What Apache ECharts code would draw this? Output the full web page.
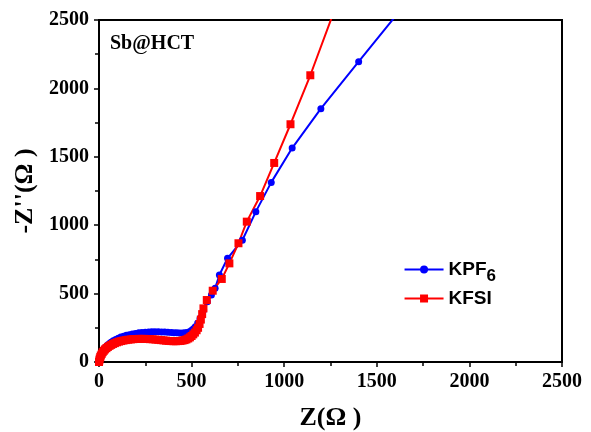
<!DOCTYPE html>
<html>
<head>
<meta charset="utf-8">
<script src="https://cdn.jsdelivr.net/npm/echarts@6/dist/echarts.min.js"></script>
<style>html,body{margin:0;padding:0;background:#fff;}#c{width:591px;height:432px;}</style>
</head>
<body>
<div id="c"></div>
<script>
var xTicks = [0, 500, 1000, 1500, 2000, 2500];
var yTicks = [0, 500, 1000, 1500, 2000, 2500];
var kpf6 = [[0,0],[3,20],[6,35],[10,50],[15,65],[21,80],[28,95],[36,109],[45,122],[55,134],[65,145],[77,155],[90,165],[104,174],[118,182],[133,189],[148,195],[164,200],[180,205],[197,209],[215,213],[232,216],[250,218],[268,220],[285,221],[302,221],[320,221],[338,220],[355,219],[372,218],[390,216],[405,214],[420,213],[435,212],[450,212],[463,213],[475,216],[488,222],[500,232],[510,243],[520,258],[533,285],[546,320],[565,380],[585,441],[607,490],[627,539],[650,636],[694,758],[774,890],[847,1099],[930,1313],[1043,1564],[1198,1852],[1402,2195],[1620,2560]];
var kfsi = [[0,0],[2,12],[4,25],[7,37],[10,48],[15,60],[20,72],[26,82],[32,92],[40,101],[48,110],[57,118],[66,125],[76,132],[86,138],[97,144],[108,149],[120,153],[132,157],[145,160],[158,163],[172,165],[185,167],[200,168],[215,169],[230,169],[245,169],[260,168],[275,167],[290,166],[305,164],[320,162],[335,160],[348,158],[362,156],[376,154],[390,153],[402,152],[415,152],[428,153],[440,154],[451,157],[462,160],[472,165],[482,172],[491,180],[500,190],[509,202],[518,215],[527,232],[535,250],[543,278],[550,310],[557,350],[564,392],[582,453],[614,521],[663,607],[704,721],[753,868],[798,1026],[870,1213],[946,1455],[1034,1738],[1141,2096],[1290,2640]];
var title = 'Sb@HCT';
var chart = echarts.init(document.getElementById('c'));
var axisFont = {fontFamily: 'Liberation Serif', fontWeight: 'bold', fontSize: 20, color: '#000'};
chart.setOption({
  animation: false,
  grid: {left: 99, right: 29, top: 20, bottom: 70, show: true, borderColor: '#000', borderWidth: 2, outerBoundsMode: 'none', containLabel: false},
  graphic: [{type: 'text', left: 110, top: 34, style: {text: title, font: 'bold 20px "Liberation Serif"', fill: '#000'}}],
  legend: {
    right: 90, top: 255, orient: 'vertical', itemWidth: 39, itemHeight: 10, itemGap: 4,
    textStyle: {fontFamily: 'Liberation Sans', fontWeight: 'bold', fontSize: 19, color: '#000',
      rich: {a: {fontFamily: 'Liberation Sans', fontWeight: 'bold', fontSize: 19}, b: {fontFamily: 'Liberation Sans', fontWeight: 'bold', fontSize: 17, padding: [14, 0, 0, 0]}}},
    formatter: function (n) { return n === 'KPF6' ? '{a|KPF}{b|6}' : '{a|' + n + '}'; },
    data: ['KPF6', 'KFSI']
  },
  xAxis: {
    type: 'value', min: 0, max: 2500, interval: 500,
    name: 'Z(Ω )', nameLocation: 'middle', nameGap: 43,
    nameTextStyle: {fontFamily: 'Liberation Serif', fontWeight: 'bold', fontSize: 26, color: '#000'},
    axisLine: {lineStyle: {color: '#000', width: 2}},
    axisTick: {inside: false, length: 5, lineStyle: {color: '#000', width: 1.5}},
    minorTick: {show: true, splitNumber: 2, length: 4, lineStyle: {color: '#000', width: 1.5}},
    splitLine: {show: false},
    axisLabel: Object.assign({margin: 10, formatter: function (v) { return xTicks.indexOf(v) >= 0 ? String(v) : ''; }}, axisFont)
  },
  yAxis: {
    type: 'value', min: 0, max: 2500, interval: 500,
    name: "-Z''(Ω )", nameLocation: 'middle', nameGap: 60,
    nameTextStyle: {fontFamily: 'Liberation Serif', fontWeight: 'bold', fontSize: 26, color: '#000'},
    axisLine: {lineStyle: {color: '#000', width: 2}},
    axisTick: {inside: false, length: 5, lineStyle: {color: '#000', width: 1.5}},
    minorTick: {show: true, splitNumber: 2, length: 4, lineStyle: {color: '#000', width: 1.5}},
    splitLine: {show: false},
    axisLabel: Object.assign({margin: 10, formatter: function (v) { return yTicks.indexOf(v) >= 0 ? String(v) : ''; }}, axisFont)
  },
  series: [
    {name: 'KPF6', type: 'line', data: kpf6, symbol: 'circle', symbolSize: 7, clip: true,
     itemStyle: {color: '#0000ff'}, lineStyle: {color: '#0000ff', width: 2}},
    {name: 'KFSI', type: 'line', data: kfsi, symbol: 'rect', symbolSize: 8, clip: true,
     itemStyle: {color: '#ff0000'}, lineStyle: {color: '#ff0000', width: 2}}
  ]
});
</script>
</body>
</html>
